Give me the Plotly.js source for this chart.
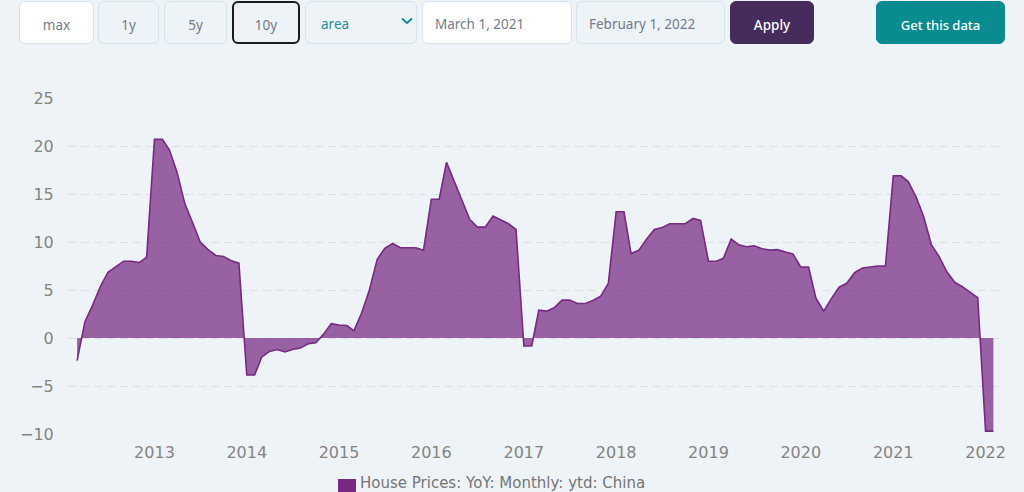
<!DOCTYPE html>
<html><head><meta charset="utf-8">
<script src="https://cdn.plot.ly/plotly-3.0.1.min.js"></script>
<style>
html,body{margin:0;padding:0;width:1024px;height:492px;overflow:hidden;background:#eef3f8}
#chart{position:absolute;left:0;top:0;width:1024px;height:492px}
.c{position:absolute;box-sizing:border-box;top:1px;height:43px;border:1px solid #d5e3ed;border-radius:6px;background:#eef3f8;color:#737b8c;font:13.5px/47px "Noto Sans",sans-serif;text-align:center;z-index:2}
.l{text-align:left;padding-left:12px}
</style></head><body>
<div id="chart"></div>
<div class="c" style="left:19px;width:75px;background:#fff">max</div>
<div class="c" style="left:98px;width:61px">1y</div>
<div class="c" style="left:164px;width:63px">5y</div>
<div class="c" style="left:232px;width:68px;border:2px solid #1c1c1c;line-height:45px">10y</div>
<div class="c l" style="left:305px;width:112px;color:#2a8f96;padding-left:15px;line-height:44px">area
  <svg width="12" height="8" style="position:absolute;left:95px;top:15px"><path d="M1 1.5L6 6L11 1.5" fill="none" stroke="#0b8f94" stroke-width="2"/></svg></div>
<div class="c l" style="left:422px;width:150px;background:#fff;line-height:44px">March 1, 2021</div>
<div class="c l" style="left:576px;width:149px;line-height:44px">February 1, 2022</div>
<div class="c" style="left:730px;width:84px;background:#452c5c;border-color:#452c5c;color:#fff;font-weight:500">Apply</div>
<div class="c" style="left:876px;width:129px;background:#088c8f;border-color:#088c8f;color:#fff;font-weight:500;font-size:13px">Get this data</div>
<script>
const seriesName = "House Prices: YoY: Monthly: ytd: China";
const months = [
"2012-03-01","2012-04-01","2012-05-01","2012-06-01","2012-07-01","2012-08-01","2012-09-01","2012-10-01","2012-11-01","2012-12-01",
"2013-01-01","2013-02-01","2013-03-01","2013-04-01","2013-05-01","2013-06-01","2013-07-01","2013-08-01","2013-09-01","2013-10-01","2013-11-01","2013-12-01",
"2014-01-01","2014-02-01","2014-03-01","2014-04-01","2014-05-01","2014-06-01","2014-07-01","2014-08-01","2014-09-01","2014-10-01","2014-11-01","2014-12-01",
"2015-01-01","2015-02-01","2015-03-01","2015-04-01","2015-05-01","2015-06-01","2015-07-01","2015-08-01","2015-09-01","2015-10-01","2015-11-01","2015-12-01",
"2016-01-01","2016-02-01","2016-03-01","2016-04-01","2016-05-01","2016-06-01","2016-07-01","2016-08-01","2016-09-01","2016-10-01","2016-11-01","2016-12-01",
"2017-01-01","2017-02-01","2017-03-01","2017-04-01","2017-05-01","2017-06-01","2017-07-01","2017-08-01","2017-09-01","2017-10-01","2017-11-01","2017-12-01",
"2018-01-01","2018-02-01","2018-03-01","2018-04-01","2018-05-01","2018-06-01","2018-07-01","2018-08-01","2018-09-01","2018-10-01","2018-11-01","2018-12-01",
"2019-01-01","2019-02-01","2019-03-01","2019-04-01","2019-05-01","2019-06-01","2019-07-01","2019-08-01","2019-09-01","2019-10-01","2019-11-01","2019-12-01",
"2020-01-01","2020-02-01","2020-03-01","2020-04-01","2020-05-01","2020-06-01","2020-07-01","2020-08-01","2020-09-01","2020-10-01","2020-11-01","2020-12-01",
"2021-01-01","2021-02-01","2021-03-01","2021-04-01","2021-05-01","2021-06-01","2021-07-01","2021-08-01","2021-09-01","2021-10-01","2021-11-01","2021-12-01",
"2022-01-01","2022-02-01"];
const values = [
-2.36,1.7,3.4,5.35,6.85,7.4,8.0,8.0,7.85,8.4,
20.7,20.7,19.6,17.2,14.0,12.0,10.0,9.2,8.6,8.5,8.05,7.8,
-3.85,-3.85,-2.0,-1.4,-1.2,-1.45,-1.2,-1.05,-0.6,-0.5,0.4,1.5,
1.35,1.3,0.75,2.65,5.0,8.2,9.35,9.85,9.4,9.4,9.4,9.15,
14.45,14.45,18.3,16.3,14.3,12.35,11.55,11.55,12.7,12.3,11.9,11.3,
-0.83,-0.83,2.9,2.8,3.15,3.95,3.95,3.6,3.6,3.9,4.35,5.7,
13.15,13.15,8.8,9.15,10.3,11.3,11.5,11.9,11.9,11.9,12.45,12.25,
8.0,8.0,8.3,10.3,9.7,9.5,9.6,9.3,9.15,9.2,8.95,8.75,
7.4,7.4,4.15,2.8,4.1,5.3,5.7,6.8,7.3,7.4,7.5,7.5,
16.9,16.9,16.3,14.7,12.65,9.7,8.5,6.9,5.8,5.35,4.8,4.2,
-9.7,-9.7];
const yTicks = [-10,-5,0,5,10,15,20,25];
const yTickLabels = ["\u221210","\u22125","0","5","10","15","20","25"];
const xRange = ["2012-01-25","2022-03-07"];
const tickFont = {family:"DejaVu Sans",size:16,color:"#85847f"};

Plotly.newPlot("chart",[{
  x:months,y:values,name:seriesName,type:"scatter",mode:"lines",fill:"tozeroy",
  fillcolor:"rgba(118,42,131,0.73)",line:{color:"#762a83",width:1.6,shape:"linear"},hoverinfo:"x+y"
}],{
  width:1024,height:492,showlegend:false,
  paper_bgcolor:"#eef3f8",plot_bgcolor:"#eef3f8",
  margin:{l:68,r:22,t:98,b:58,pad:0},
  xaxis:{type:"date",range:xRange,tick0:"2013-01-01",dtick:"M12",tickformat:"%Y",showgrid:false,zeroline:false,showline:false,
    ticks:"outside",ticklen:4,tickcolor:"rgba(0,0,0,0)",tickfont:tickFont},
  yaxis:{range:[-10,25],tickvals:yTicks,ticktext:yTickLabels,showgrid:true,gridcolor:"#dcdfe2",griddash:"8px,5px",gridwidth:1.4,
    zeroline:false,showline:false,ticks:"outside",ticklen:10,tickcolor:"rgba(0,0,0,0)",tickfont:tickFont},
  shapes:[{type:"rect",xref:"paper",yref:"paper",x0:(338-68)/934,x1:(356-68)/934,y0:(434-492)/336,y1:(434-479)/336,
    fillcolor:"#762a83",line:{width:0}}],
  annotations:[{xref:"paper",yref:"paper",x:(358-68)/934,y:(434-482.5)/336,xanchor:"left",yanchor:"middle",showarrow:false,
    text:seriesName,font:{family:"DejaVu Sans",size:15,color:"#757575"}}]
},{displayModeBar:false});
</script>
</body></html>
